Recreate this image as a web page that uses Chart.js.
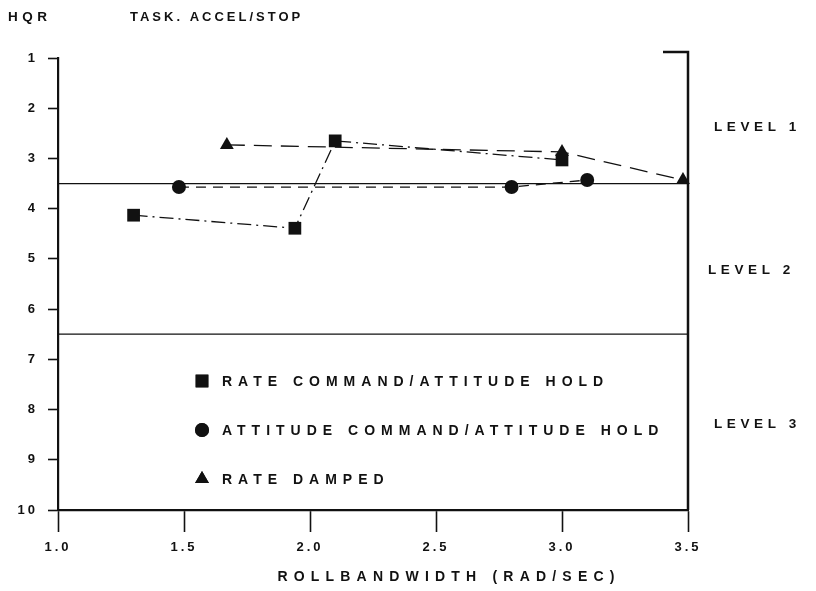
<!DOCTYPE html>
<html>
<head>
<meta charset="utf-8">
<script src="https://cdn.jsdelivr.net/npm/chart.js@4.4.1/dist/chart.umd.min.js"></script>
<style>
  html, body { margin: 0; padding: 0; background: #fff; }
</style>
</head>
<body>
<canvas id="c" width="816" height="591"></canvas>
<script>
// roll bandwidth (rad/sec) vs pilot rating, per control type
const rateCmdX = [1.3, 1.94, 2.1, 3.0];
const rateCmdY = [4.13, 4.39, 2.65, 3.03];
const attCmdX = [1.48, 2.8, 3.1];
const attCmdY = [3.57, 3.57, 3.43];
const dampedX = [1.67, 3.0, 3.48];
const dampedY = [2.73, 2.87, 3.43];

const levelBounds = [3.5, 6.5];
const levelNames = ['LEVEL 1', 'LEVEL 2', 'LEVEL 3'];
const seriesNames = ['RATE COMMAND/ATTITUDE HOLD', 'ATTITUDE COMMAND/ATTITUDE HOLD', 'RATE DAMPED'];
const xTicks = [1.0, 1.5, 2.0, 2.5, 3.0, 3.5];
const yTicks = [1, 2, 3, 4, 5, 6, 7, 8, 9, 10];

const FAMILY = '"Liberation Sans", Arial, sans-serif';
const INK = '#111';

const pts = (xs, ys) => xs.map((x, i) => ({ x, y: ys[i] }));

function series(label, xs, ys, style, radius, dash) {
  return {
    label,
    data: pts(xs, ys),
    borderColor: INK,
    backgroundColor: INK,
    borderWidth: 1.3,
    borderDash: dash,
    pointStyle: style,
    pointRadius: radius,
    pointBorderWidth: 0,
    showLine: true,
    clip: false,
  };
}

function levelLine(v) {
  return {
    label: 'level ' + v,
    data: [{ x: xTicks[0], y: v }, { x: xTicks[xTicks.length - 1], y: v }],
    borderColor: INK,
    borderWidth: 1.2,
    pointRadius: 0,
    showLine: true,
  };
}

function spacedText(ctx, text, x, y, align, spacing, size) {
  ctx.save();
  ctx.font = 'bold ' + (size || 13) + 'px ' + FAMILY;
  ctx.fillStyle = INK;
  ctx.letterSpacing = spacing + 'px';
  ctx.textBaseline = 'middle';
  ctx.textAlign = align || 'left';
  ctx.fillText(text, x, y);
  ctx.restore();
}

const decorations = {
  id: 'decorations',
  beforeDraw(chart) {
    // wide tracking for the axis numbers
    chart.ctx.letterSpacing = '3px';
  },
  afterDraw(chart) {
    const ctx = chart.ctx;
    const xs = chart.scales.x, ys = chart.scales.y;
    ctx.letterSpacing = '0px';

    // titles
    spacedText(ctx, 'HQR', 8, 17, 'left', 4.5, 13.5);
    spacedText(ctx, 'TASK. ACCEL/STOP', 130, 17, 'left', 3, 13);

    // right-hand bracket
    const xr = xs.getPixelForValue(3.5);
    const yTop = ys.getPixelForValue(0.88);
    ctx.save();
    ctx.strokeStyle = INK;
    ctx.lineWidth = 2.5;
    ctx.beginPath();
    ctx.moveTo(xr - 25, yTop);
    ctx.lineTo(xr, yTop);
    ctx.lineTo(xr, ys.bottom);
    ctx.stroke();
    ctx.restore();

    // level names
    const levelMid = [2.37, 5.22, 8.3];
    const levelX = [26, 20, 26];
    levelNames.forEach((n, i) => {
      spacedText(ctx, n, xr + levelX[i], ys.getPixelForValue(levelMid[i]), 'left', 4.6, 13.5);
    });

    // in-plot key
    const keyRows = [381, 430, 479];
    const keyStyles = ['rect', 'circle', 'triangle'];
    const keyR = [9, 7, 8];
    seriesNames.forEach((n, i) => {
      ctx.save();
      ctx.fillStyle = INK;
      Chart.helpers.drawPoint(ctx, { pointStyle: keyStyles[i], radius: keyR[i], borderWidth: 0 }, 202, keyRows[i]);
      ctx.fill();
      ctx.restore();
      spacedText(ctx, n, 222, keyRows[i] + 1, 'left', 6, 14);
    });

    // x title
    spacedText(ctx, 'ROLLBANDWIDTH (RAD/SEC)', 449, 577, 'center', 6.2, 14);
  }
};

new Chart(document.getElementById('c'), {
  type: 'scatter',
  data: {
    datasets: [
      series(seriesNames[0], rateCmdX, rateCmdY, 'rect', 9, [14, 5, 2, 5]),
      series(seriesNames[1], attCmdX, attCmdY, 'circle', 7, [10, 7]),
      series(seriesNames[2], dampedX, dampedY, 'triangle', 8, [18, 9]),
      levelLine(levelBounds[0]),
      levelLine(levelBounds[1]),
    ],
  },
  options: {
    responsive: false,
    devicePixelRatio: 1,
    animation: false,
    layout: { padding: { left: 0, top: 58, right: 128, bottom: 0 } },
    plugins: { legend: { display: false }, tooltip: { enabled: false } },
    scales: {
      x: {
        type: 'linear',
        min: xTicks[0],
        max: xTicks[xTicks.length - 1],
        afterBuildTicks(axis) { axis.ticks = xTicks.map(v => ({ value: v })); },
        afterFit(axis) { axis.height = 81; },
        border: { display: true, color: INK, width: 2.2 },
        grid: { drawOnChartArea: false, drawTicks: true, tickLength: 22, tickColor: INK, tickWidth: 1.6 },
        ticks: {
          color: INK,
          font: { family: FAMILY, size: 13, weight: 'bold' },
          padding: 8,
          maxRotation: 0,
          autoSkip: false,
          callback: v => v.toFixed(1),
        },
      },
      y: {
        type: 'linear',
        reverse: true,
        min: yTicks[0],
        max: yTicks[yTicks.length - 1],
        afterBuildTicks(axis) { axis.ticks = yTicks.map(v => ({ value: v })); },
        afterFit(axis) { axis.width = 58; },
        border: { display: true, color: INK, width: 2.2 },
        grid: { drawOnChartArea: false, drawTicks: true, tickLength: 10, tickColor: INK, tickWidth: 1.6 },
        ticks: {
          color: INK,
          font: { family: FAMILY, size: 13, weight: 'bold' },
          padding: 10,
          autoSkip: false,
          callback: v => String(v),
        },
      },
    },
  },
  plugins: [decorations],
});
</script>
</body>
</html>
